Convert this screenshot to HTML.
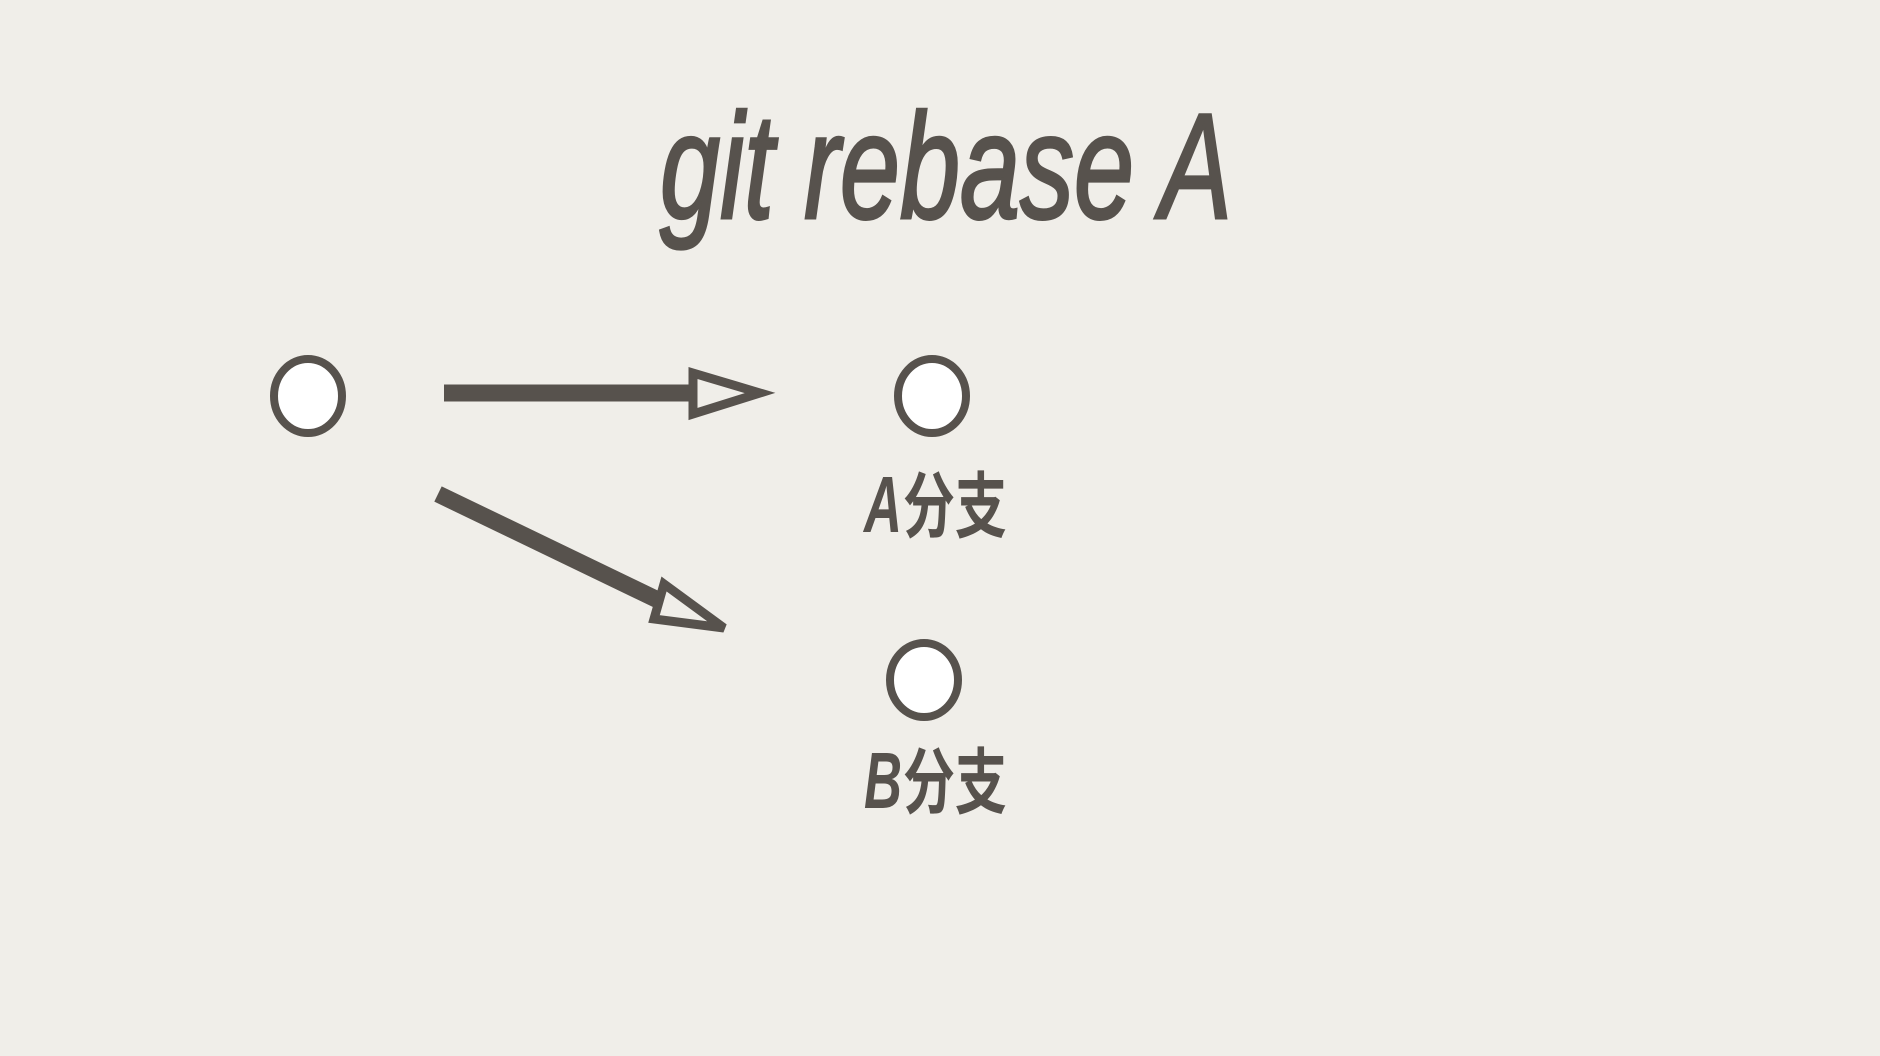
<!DOCTYPE html>
<html><head><meta charset="utf-8"><style>
html,body{margin:0;padding:0;background:#f0eee9;}
svg{display:block;}
</style></head><body>
<svg width="1880" height="1056" viewBox="0 0 1880 1056" xmlns="http://www.w3.org/2000/svg">
<rect width="1880" height="1056" fill="#f0eee9"/>
<text x="660" y="218" font-family="Liberation Sans, sans-serif" font-style="italic" font-size="150" fill="#57524d" textLength="572" lengthAdjust="spacingAndGlyphs" stroke="#57524d" stroke-width="3">git rebase A</text>
<g fill="#ffffff" stroke="#57524d" stroke-width="8">
<ellipse cx="308" cy="396" rx="34" ry="37"/>
<ellipse cx="932" cy="396" rx="34" ry="37"/>
<ellipse cx="924" cy="680" rx="34" ry="37"/>
</g>
<g stroke="#57524d" fill="#f0eee9" stroke-width="9" stroke-linejoin="miter">
<line x1="444" y1="393" x2="692" y2="393" stroke-width="17"/>
<polygon points="693,373 760,393 693,414"/>
<line x1="438" y1="494" x2="660" y2="601" stroke-width="17"/>
<polygon points="664,584 724,628 654,619"/>
</g>
<text x="864" y="532" font-family="Liberation Sans, sans-serif" font-style="italic" font-weight="bold" font-size="80" fill="#57524d" textLength="38" lengthAdjust="spacingAndGlyphs">A</text>
<text x="903" y="532" font-family="'Noto Sans CJK SC', sans-serif" font-weight="bold" font-size="72" fill="#57524d" textLength="104" lengthAdjust="spacingAndGlyphs">分支</text>
<text x="864" y="808" font-family="Liberation Sans, sans-serif" font-style="italic" font-weight="bold" font-size="80" fill="#57524d" textLength="38" lengthAdjust="spacingAndGlyphs">B</text>
<text x="903" y="808" font-family="'Noto Sans CJK SC', sans-serif" font-weight="bold" font-size="72" fill="#57524d" textLength="104" lengthAdjust="spacingAndGlyphs">分支</text>
</svg>
</body></html>
